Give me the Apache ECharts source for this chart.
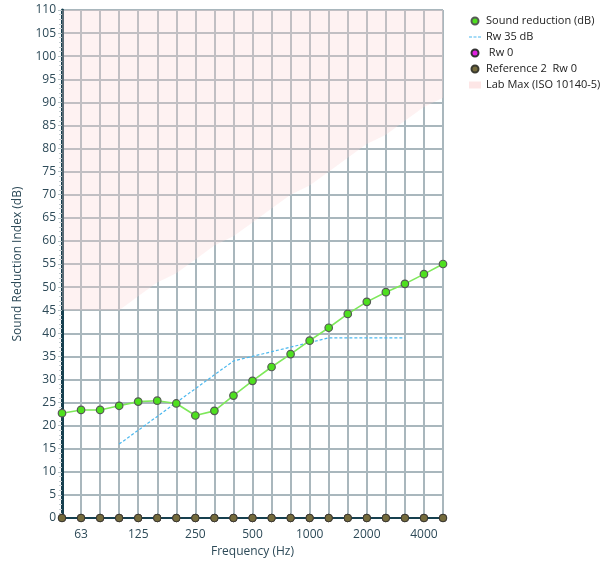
<!DOCTYPE html>
<html>
<head>
<meta charset="utf-8">
<script src="https://cdn.jsdelivr.net/npm/echarts@6/dist/echarts.min.js"></script>
<style>
  html, body { margin: 0; padding: 0; background: #fff; }
  #chart { width: 603px; height: 563px; }
</style>
</head>
<body>
<div id="chart"></div>
<script>
// One-third octave bands, 50 Hz – 5000 Hz
const bands = ['50', '63', '80', '100', '125', '160', '200', '250', '315', '400', '500',
               '630', '800', '1000', '1250', '1600', '2000', '2500', '3150', '4000', '5000'];
// Bands that carry a frequency label on the axis
const labelledBands = ['63', '125', '250', '500', '1000', '2000', '4000'];

// Measured sound reduction index R (dB)
const soundReduction = [22.7, 23.4, 23.4, 24.3, 25.2, 25.4, 24.8, 22.2, 23.2, 26.5, 29.7,
                        32.7, 35.5, 38.4, 41.2, 44.2, 46.8, 48.9, 50.7, 52.8, 55.0];

// Shifted ISO 717-1 reference curve for Rw = 35 dB (100 – 3150 Hz)
const rw35 = [null, null, null, 16, 19, 22, 25, 28, 31, 34, 35,
              36, 37, 38, 39, 39, 39, 39, 39, null, null];

// Zero-level curves
const rw0 = [0, 0, 0, 0, 0, 0, 0, 0, 0, 0, 0, 0, 0, 0, 0, 0, 0, 0, 0, 0, 0];
const reference2Rw0 = [0, 0, 0, 0, 0, 0, 0, 0, 0, 0, 0, 0, 0, 0, 0, 0, 0, 0, 0, 0, 0];

// Laboratory maximum (ISO 10140-5), shaded from this curve up to the top
const labMax = [45, 45, 45, 45, 48, 51, 53, 56, 59, 61, 64,
                67, 70, 72, 75, 78, 81, 83, 86, 89, 91];

const yTicks = { min: 0, max: 110, interval: 5 };

const chart = echarts.init(document.getElementById('chart'), null, { renderer: 'canvas' });

const fontFamily = '"Open Sans", "Noto Sans", sans-serif';
const axisDark = '#17404f';
const gridColor = '#a9b7bd';

// Short dashed stroke used as the legend glyph of the reference curve
const dashIcon = 'path://M0,0h4v1.4h-4z M6,0h4v1.4h-4z M12,0h4v1.4h-4z';

chart.setOption({
  animation: false,
  backgroundColor: '#ffffff',
  textStyle: { fontFamily },
  grid: { left: 62, right: 160, top: 10, bottom: 44, containLabel: false },
  legend: {
    orient: 'vertical',
    left: 464,
    top: 9,
    itemGap: 2,
    itemWidth: 12,
    itemHeight: 7,
    textStyle: { fontSize: 11, color: '#222', fontFamily, lineHeight: 14 },
    data: [
      { name: 'Sound reduction (dB)', icon: 'circle' },
      { name: 'Rw 35 dB', icon: dashIcon, itemStyle: { color: '#4cb8ee' } },
      { name: ' Rw 0', icon: 'circle' },
      { name: 'Reference 2  Rw 0', icon: 'circle' },
      { name: 'Lab Max (ISO 10140-5)', icon: 'rect' }
    ]
  },
  xAxis: {
    type: 'category',
    data: bands,
    boundaryGap: false,
    name: 'Frequency (Hz)',
    nameLocation: 'middle',
    nameGap: 28,
    nameTextStyle: { fontSize: 12, color: '#2d4a58' },
    axisLine: { show: true, lineStyle: { color: axisDark, width: 2 } },
    axisTick: { show: true, interval: 0, length: 4, lineStyle: { color: '#b8c4c8' } },
    axisLabel: {
      interval: (idx, value) => labelledBands.includes(value),
      fontSize: 12,
      color: '#2d4a58',
      margin: 11
    },
    splitLine: { show: true, interval: 0, lineStyle: { color: gridColor, width: 2 } }
  },
  yAxis: {
    type: 'value',
    min: yTicks.min,
    max: yTicks.max,
    interval: yTicks.interval,
    name: 'Sound Reduction Index (dB)',
    nameLocation: 'middle',
    nameGap: 38,
    nameTextStyle: { fontSize: 12, color: '#2d4a58' },
    axisLine: { show: true, lineStyle: { color: axisDark, width: 3 } },
    axisTick: { show: true, length: 4, lineStyle: { color: '#b8c4c8' } },
    minorTick: { show: true, splitNumber: 5, length: 3, lineStyle: { color: '#c4ccd0' } },
    axisLabel: { fontSize: 12, color: '#2d4a58', margin: 6 },
    splitLine: { show: true, lineStyle: { color: gridColor, width: 2 } }
  },
  series: [
    {
      name: 'Lab Max (ISO 10140-5)',
      type: 'line',
      data: labMax,
      symbol: 'none',
      silent: true,
      itemStyle: { color: '#fde6e6' },
      lineStyle: { width: 0, opacity: 0 },
      areaStyle: { origin: 'end', color: 'rgba(252, 212, 212, 0.42)' },
      z: 1
    },
    {
      name: 'Rw 35 dB',
      type: 'line',
      data: rw35,
      symbol: 'none',
      itemStyle: { color: '#4cb8ee' },
      lineStyle: { color: '#4cb8ee', width: 1.2, type: [3, 2] },
      z: 3
    },
    {
      name: 'Sound reduction (dB)',
      type: 'line',
      data: soundReduction,
      symbol: 'circle',
      symbolSize: 7.5,
      itemStyle: { color: '#4ee01e', borderColor: '#555a55', borderWidth: 1.2 },
      lineStyle: { color: '#7ee85a', width: 1.6 },
      z: 4
    },
    {
      name: ' Rw 0',
      type: 'line',
      data: rw0,
      symbol: 'circle',
      symbolSize: 7.5,
      itemStyle: { color: '#e020e0', borderColor: '#333', borderWidth: 1 },
      lineStyle: { width: 0, opacity: 0 },
      z: 5
    },
    {
      name: 'Reference 2  Rw 0',
      type: 'line',
      data: reference2Rw0,
      symbol: 'circle',
      symbolSize: 7.5,
      itemStyle: { color: '#756b3c', borderColor: '#3a3a30', borderWidth: 1 },
      lineStyle: { width: 0, opacity: 0 },
      z: 6
    }
  ]
});
</script>
</body>
</html>
